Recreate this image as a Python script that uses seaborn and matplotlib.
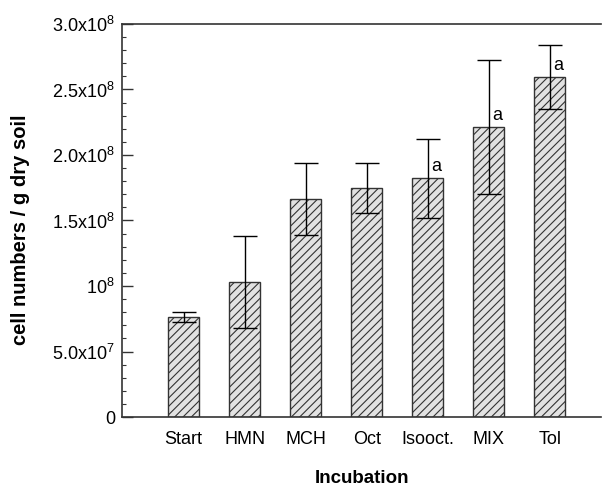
import matplotlib
matplotlib.use("Agg")
import matplotlib.pyplot as plt
import seaborn as sns
import pandas as pd
import numpy as np
from matplotlib.ticker import MultipleLocator, FixedLocator

categories = ["Start", "HMN", "MCH", "Oct", "Isooct.", "MIX", "Tol"]
values = [0.763e8, 1.028e8, 1.662e8, 1.750e8, 1.822e8, 2.214e8, 2.595e8]
errors = [0.035e8, 0.35e8, 0.276e8, 0.19e8, 0.30e8, 0.51e8, 0.245e8]
letters = ["", "", "", "", "a", "a", "a"]
ytick_vals = [0, 0.5e8, 1.0e8, 1.5e8, 2.0e8, 2.5e8, 3.0e8]
ytick_labels = ["0", r"5.0x10$^{7}$", r"10$^{8}$", r"1.5x10$^{8}$",
                r"2.0x10$^{8}$", r"2.5x10$^{8}$", r"3.0x10$^{8}$"]

sns.set_style("white")
plt.rcParams["font.family"] = ["Liberation Sans", "DejaVu Sans"]
plt.rcParams["mathtext.fontset"] = "custom"
plt.rcParams["mathtext.rm"] = "Liberation Sans"
plt.rcParams["mathtext.it"] = "Liberation Sans:italic"
plt.rcParams["mathtext.bf"] = "Liberation Sans:bold"
plt.rcParams["hatch.linewidth"] = 0.8
plt.rcParams["ytick.direction"] = "in"
plt.rcParams["text.color"] = "black"
plt.rcParams["axes.labelcolor"] = "black"
plt.rcParams["xtick.color"] = "black"
plt.rcParams["ytick.color"] = "black"

df = pd.DataFrame({"cat": categories, "val": values, "err": errors})

fig = plt.figure(figsize=(6.02, 4.86), dpi=100)
ax = fig.add_axes([122/602, 1 - 417/486, (601-122)/602, (417-24)/486])

sns.barplot(data=df, x="cat", y="val", ax=ax, color="#e2e2e2", width=0.5,
            edgecolor="#333333", linewidth=1.0, errorbar=None, hatch="////",
            saturation=1)
for p in ax.patches:
    p.set_hatch("////")
    p.set_facecolor("#e2e2e2")

ax.errorbar(np.arange(len(categories)), values, yerr=errors, fmt="none",
            ecolor="black", elinewidth=1.0, capsize=8.5, capthick=1.0)

for i, (v, lab) in enumerate(zip(values, letters)):
    if lab:
        ax.text(i + 0.14, v + 0.09e8, lab, ha="center", va="center", fontsize=13, color="black")

ax.set_xlim(-1.01, 6.84)
ax.set_ylim(0, 3.0e8)
ax.yaxis.set_major_locator(FixedLocator(ytick_vals))
ax.set_yticklabels(ytick_labels, fontsize=13)
ax.yaxis.set_minor_locator(MultipleLocator(1e7))
ax.tick_params(axis="y", which="major", direction="in", length=8, width=1, color="#333333", left=True, pad=5, labelcolor="black")
ax.tick_params(axis="y", which="minor", direction="in", length=3, width=0.8, color="#333333", left=True)
ax.tick_params(axis="x", length=0, labelsize=13, pad=10, labelcolor="black")

for s in ["left", "bottom", "top"]:
    ax.spines[s].set_visible(True)
    ax.spines[s].set_color("#333333")
    ax.spines[s].set_linewidth(1.2)
ax.spines["right"].set_visible(False)

ax.set_xlabel("Incubation", fontsize=13.5, fontweight="bold", labelpad=16, color="black")
ax.set_ylabel("cell numbers / g dry soil", fontsize=14.5, fontweight="bold", color="black")
ax.yaxis.set_label_coords(-0.192, 0.476)

fig.savefig("out.png", dpi=100)
